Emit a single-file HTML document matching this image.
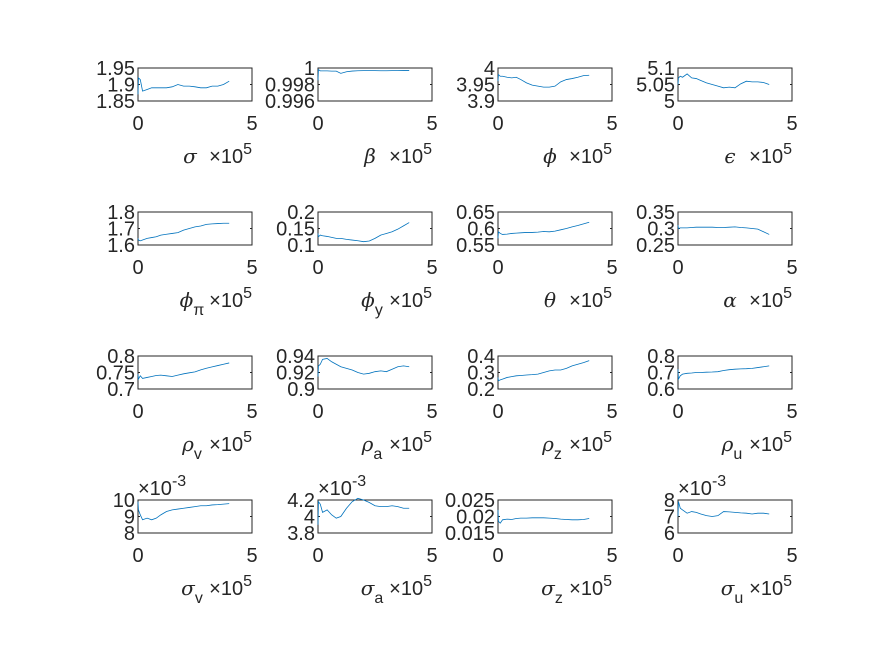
<!DOCTYPE html>
<html><head><meta charset="utf-8"><style>
html,body{margin:0;padding:0;background:#fff}
svg{display:block;font-family:"Liberation Sans","DejaVu Sans",sans-serif}
.tk{font-size:20px;fill:#262626}
.lb{font-size:20px;fill:#262626}
.gr{font-family:"DejaVu Serif","Liberation Serif",serif;font-style:italic}
</style></head><body>
<svg id="fig" width="875" height="656" viewBox="0 0 875 656"></svg>
<script>
const xs = [0,0.02,0.1,0.2,0.4,0.6,0.8,1,1.25,1.5,1.75,2,2.25,2.5,2.75,3,3.25,3.5,3.75,4];
const names = ["sigma","beta","phi","epsilon","phi-pi","phi-y","theta","alpha","rho-v","rho-a","rho-z","rho-u","sigma-v","sigma-a","sigma-z","sigma-u"];
const symbols = ["σ","β","ϕ","ϵ","ϕ","ϕ","θ","α","ρ","ρ","ρ","ρ","σ","σ","σ","σ"];
const subs = ["","","","","π","y","","","v","a","z","u","v","a","z","u"];
const yMins = [1.85,0.996,3.9,5,1.6,0.1,0.55,0.25,0.7,0.9,0.2,0.6,8,3.8,0.015,6];
const yMaxs = [1.95,1,4,5.1,1.8,0.2,0.65,0.35,0.8,0.94,0.4,0.8,10,4.2,0.025,8];
const yTickLabels = [
 ["1.85","1.9","1.95"],["0.996","0.998","1"],["3.9","3.95","4"],["5","5.05","5.1"],
 ["1.6","1.7","1.8"],["0.1","0.15","0.2"],["0.55","0.6","0.65"],["0.25","0.3","0.35"],
 ["0.7","0.75","0.8"],["0.9","0.92","0.94"],["0.2","0.3","0.4"],["0.6","0.7","0.8"],
 ["8","9","10"],["3.8","4","4.2"],["0.015","0.02","0.025"],["6","7","8"]];
const yExps = ["","","","","","","","","","","","","-3","-3","","-3"];
const s1 = [1.87,1.92,1.915,1.88,1.885,1.89,1.89,1.89,1.89,1.893,1.9,1.895,1.895,1.893,1.89,1.89,1.895,1.895,1.9,1.91];
const s2 = [0.9985,0.9998,0.99965,0.99965,0.99965,0.99962,0.99962,0.99935,0.99955,0.99963,0.99967,0.99968,0.99968,0.99968,0.99967,0.99967,0.99968,0.99968,0.99969,0.99969];
const s3 = [3.96,3.98,3.975,3.975,3.972,3.97,3.972,3.965,3.955,3.948,3.945,3.942,3.942,3.945,3.958,3.965,3.968,3.972,3.977,3.978];
const s4 = [5.05,5.07,5.075,5.072,5.082,5.07,5.068,5.062,5.055,5.05,5.045,5.04,5.042,5.04,5.052,5.06,5.058,5.058,5.056,5.05];
const s5 = [1.64,1.63,1.625,1.63,1.64,1.645,1.65,1.66,1.665,1.67,1.675,1.69,1.7,1.71,1.715,1.725,1.728,1.73,1.732,1.732];
const s6 = [0.135,0.125,0.13,0.128,0.126,0.123,0.12,0.12,0.117,0.115,0.113,0.11,0.112,0.12,0.13,0.135,0.14,0.148,0.158,0.168];
const s7 = [0.57,0.59,0.585,0.582,0.583,0.585,0.586,0.587,0.588,0.588,0.589,0.591,0.59,0.592,0.596,0.6,0.605,0.609,0.614,0.619];
const s8 = [0.31,0.3,0.302,0.302,0.302,0.303,0.304,0.304,0.304,0.304,0.303,0.303,0.304,0.305,0.303,0.302,0.3,0.298,0.29,0.282];
const s9 = [0.745,0.73,0.74,0.732,0.735,0.738,0.741,0.742,0.74,0.738,0.742,0.746,0.749,0.752,0.758,0.763,0.767,0.771,0.775,0.779];
const s10 = [0.915,0.928,0.93,0.936,0.937,0.933,0.93,0.927,0.925,0.923,0.92,0.918,0.919,0.921,0.922,0.921,0.924,0.927,0.928,0.927];
const s11 = [0.27,0.25,0.255,0.26,0.27,0.275,0.28,0.282,0.285,0.287,0.29,0.3,0.31,0.315,0.315,0.325,0.34,0.35,0.36,0.372];
const s12 = [0.72,0.66,0.68,0.69,0.695,0.697,0.7,0.7,0.702,0.703,0.705,0.712,0.717,0.72,0.722,0.723,0.725,0.73,0.735,0.74];
const s13 = [9.9,9.4,9.1,8.8,8.9,8.8,8.9,9.1,9.3,9.4,9.45,9.5,9.55,9.6,9.65,9.65,9.7,9.72,9.75,9.78];
const s14 = [3.9,4.18,4.15,4.05,4.08,4.02,3.98,4.0,4.1,4.18,4.22,4.2,4.17,4.13,4.12,4.12,4.13,4.12,4.1,4.1];
const s15 = [0.022,0.0185,0.018,0.019,0.0192,0.0191,0.0194,0.0195,0.0195,0.0196,0.0196,0.0196,0.0195,0.0194,0.0192,0.0191,0.019,0.019,0.0191,0.0194];
const s16 = [7.0,7.9,7.5,7.4,7.2,7.3,7.25,7.15,7.05,7.0,7.05,7.3,7.28,7.25,7.22,7.2,7.15,7.2,7.2,7.15];
const series = [s1,s2,s3,s4,s5,s6,s7,s8,s9,s10,s11,s12,s13,s14,s15,s16];

const NS = "http://www.w3.org/2000/svg";
const svg = document.getElementById("fig");
function mk(tag, attrs, parent){const e=document.createElementNS(NS,tag);for(const k in attrs)e.setAttribute(k,attrs[k]);(parent||svg).appendChild(e);return e;}
const colX=[138,318,498,678], rowY=[68,212,356,500], W=114, H=33;
for(let i=0;i<16;i++){
  const r=Math.floor(i/4), c=i%4, x0=colX[c], y0=rowY[r];
  const g=mk("g",{});
  
  
  const sx=v=>x0+v/5*W;
  const sy=v=>y0+H-(v-yMins[i])/(yMaxs[i]-yMins[i])*H;
  const box=mk("rect",{x:x0,y:y0,width:W,height:H,fill:"#fff",stroke:"#262626","stroke-width":1},g);
  
  
  yTickLabels[i].forEach((t,k)=>{
    const v=yMins[i]+k*(yMaxs[i]-yMins[i])/2, y=sy(v);
    mk("line",{x1:x0,x2:x0+2,y1:y,y2:y,stroke:"#262626"},g);
    mk("line",{x1:x0+W-2,x2:x0+W,y1:y,y2:y,stroke:"#262626"},g);
    const tx=mk("text",{x:x0-3,y:y+7,"text-anchor":"end",class:"tk"},g);
    tx.textContent=t;
    
    
  });
  ["0","5"].forEach((t,k)=>{
    const tx=mk("text",{x:sx(k*5),y:y0+H+29,"text-anchor":"middle",class:"tk"},g);
    tx.textContent=t;
    
    
  });
  const pts=xs.map((xv,k)=>sx(xv).toFixed(2)+","+sy(series[i][k]).toFixed(2)).join(" ");
  const pl=mk("polyline",{points:pts,fill:"none",stroke:"#0072BD","stroke-width":0.8},g);
  
  
  const xl=mk("text",{x:subs[i]?x0+W/2-3:x0+W/2-5,y:y0+95,"text-anchor":"middle",class:"lb"},g);
  
  
  const sym=mk("tspan",{class:"gr"},xl); sym.textContent=symbols[i];
  if(subs[i]){const sb=mk("tspan",{dy:8,"font-size":"16"},xl); sb.textContent=subs[i];}
  const ex=mk("text",{x:x0+W,y:y0+95,"text-anchor":"end",class:"lb"},g);
  
  
  const e1=mk("tspan",{},ex); e1.textContent="×10";
  const e2=mk("tspan",{dy:-9,"font-size":"16"},ex); e2.textContent="5";
  if(yExps[i]){
    const ye=mk("text",{x:x0,y:y0-5,class:"lb"},g);
    
    
    const a=mk("tspan",{},ye); a.textContent="×10";
    const b=mk("tspan",{dy:-9,"font-size":"16"},ye); b.textContent=yExps[i];
  }
}
</script>
</body></html>
